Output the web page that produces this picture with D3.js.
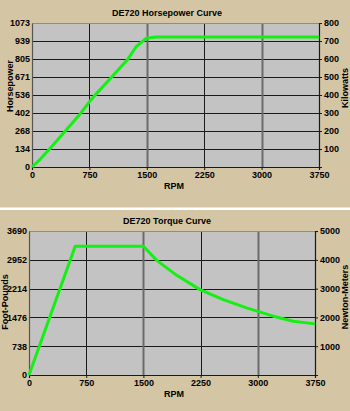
<!DOCTYPE html>
<html>
<head>
<meta charset="utf-8">
<script src="https://cdn.jsdelivr.net/npm/d3@7"></script>
<style>
  body { margin: 0; background: #d4c6a4; }
  svg { display: block; }
  text { font-family: "Liberation Sans", Arial, sans-serif; font-weight: bold; font-size: 9px; fill: #000; }
</style>
</head>
<body>
<div id="chart"></div>
<script>
// shared x axis
const rpmTicks = [0, 750, 1500, 2250, 3000, 3750];

// horsepower chart
const hpTicks = [0, 134, 268, 402, 536, 671, 805, 939, 1073];
const kwTicks = [100, 200, 300, 400, 500, 600, 700, 800];
const hpRpm = [0, 116, 247, 444, 640, 750, 815, 1033, 1251, 1360, 1491, 1622, 3750];
const hpValues = [0, 63, 145, 274, 403, 485, 530, 665, 802, 896, 959, 968, 968];

// torque chart
const ftlbTicks = [0, 738, 1476, 2214, 2952, 3690];
const nmTicks = [1000, 2000, 3000, 4000, 5000];
const torqueRpm = [0, 606, 1500, 1675, 1937, 2242, 2547, 2853, 3202, 3464, 3750];
const torqueValues = [0, 3300, 3300, 2937, 2554, 2188, 1933, 1719, 1507, 1379, 1310];

const svg = d3.select("#chart").append("svg")
    .attr("width", 350)
    .attr("height", 411);

svg.append("rect")
    .attr("width", 350).attr("height", 411)
    .attr("fill", "#d4c6a4");

// white divider between the two charts
svg.append("rect")
    .attr("x", 0).attr("y", 207.5)
    .attr("width", 350).attr("height", 2.5)
    .attr("fill", "#fff");

function drawCurve(opts) {
    const g = svg.append("g");
    const x = d3.scaleLinear().domain([0, 3750]).range([opts.left, opts.right]);
    const y = d3.scaleLinear().domain([0, opts.leftTicks[opts.leftTicks.length - 1]]).range([opts.bottom, opts.top]);
    const y2 = d3.scaleLinear().domain(opts.rightDomain).range([opts.bottom, opts.top]);

    // plot background
    g.append("rect")
        .attr("x", opts.left).attr("y", opts.top)
        .attr("width", opts.right - opts.left)
        .attr("height", opts.bottom - opts.top)
        .attr("fill", "#c3c3c3");

    // horizontal grid
    g.selectAll(".hgrid")
        .data(opts.leftTicks.slice(1, -1))
        .enter().append("line")
        .attr("x1", opts.left).attr("x2", opts.right)
        .attr("y1", d => Math.round(y(d)) + 0.5)
        .attr("y2", d => Math.round(y(d)) + 0.5)
        .attr("stroke", "#1a1a1a");

    // vertical grid; 1500 and 3000 are drawn grey and heavier
    g.selectAll(".vgrid")
        .data(rpmTicks.slice(1, -1))
        .enter().append("line")
        .attr("x1", d => Math.round(x(d)) + 0.5)
        .attr("x2", d => Math.round(x(d)) + 0.5)
        .attr("y1", opts.top).attr("y2", opts.bottom)
        .attr("stroke", d => d % 1500 === 0 ? "#6a6a6a" : "#1a1a1a")
        .attr("stroke-width", d => d % 1500 === 0 ? 2 : 1);

    // frame: light top edge, dark left/bottom/right
    g.append("line")
        .attr("x1", opts.left).attr("x2", opts.right)
        .attr("y1", opts.top + 0.5).attr("y2", opts.top + 0.5)
        .attr("stroke", "#8c8c8c");

    // axes
    const xAxis = g.append("g")
        .attr("transform", "translate(0," + opts.bottom + ")")
        .call(d3.axisBottom(x).tickValues(rpmTicks).tickSize(3).tickPadding(2).tickFormat(d3.format("d")));
    const yAxis = g.append("g")
        .attr("transform", "translate(" + opts.left + ",0)")
        .call(d3.axisLeft(y).tickValues(opts.leftTicks).tickSize(0).tickPadding(2).tickFormat(d3.format("d")));
    const yAxis2 = g.append("g")
        .attr("transform", "translate(" + opts.right + ",0)")
        .call(d3.axisRight(y2).tickValues(opts.rightTicks).tickSize(3).tickPadding(2).tickFormat(d3.format("d")));

    [xAxis, yAxis, yAxis2].forEach(function(a) {
        a.attr("font-family", null).attr("font-size", null);
        a.selectAll("path").attr("stroke", "#1a1a1a").attr("stroke-width", 1.2);
        a.selectAll("line").attr("stroke", "#1a1a1a");
        a.selectAll("text").attr("fill", "#000");
    });
    yAxis.select("path").attr("stroke", "#555");

    // curve
    const line = d3.line()
        .x(d => x(d[0]))
        .y(d => y(d[1]));
    g.append("path")
        .datum(d3.zip(opts.rpm, opts.values))
        .attr("d", line)
        .attr("fill", "none")
        .attr("stroke", "#14f014")
        .attr("stroke-width", 3)
        .attr("stroke-linejoin", "round");

    // titles
    g.append("text")
        .attr("x", 167).attr("y", opts.top - 7)
        .attr("text-anchor", "middle")
        .text(opts.title);
    g.append("text")
        .attr("x", 174).attr("y", opts.bottom + 22)
        .attr("text-anchor", "middle")
        .text("RPM");
    g.append("text")
        .attr("transform", "translate(" + opts.leftLabelX + "," + opts.leftLabelY + ") rotate(-90)")
        .attr("text-anchor", "middle")
        .text(opts.leftLabel);
    g.append("text")
        .attr("transform", "translate(" + opts.rightLabelX + "," + opts.rightLabelY + ") rotate(-90)")
        .attr("text-anchor", "middle")
        .text(opts.rightLabel);
}

drawCurve({
    title: "DE720 Horsepower Curve",
    left: 32, right: 319, top: 23, bottom: 167,
    leftTicks: hpTicks, rightTicks: kwTicks, rightDomain: [0, 800],
    rpm: hpRpm, values: hpValues,
    leftLabel: "Horsepower", leftLabelX: 13, leftLabelY: 86,
    rightLabel: "Kilowatts", rightLabelX: 348, rightLabelY: 88
});

drawCurve({
    title: "DE720 Torque Curve",
    left: 29, right: 315, top: 231, bottom: 375,
    leftTicks: ftlbTicks, rightTicks: nmTicks, rightDomain: [0, 5003],
    rpm: torqueRpm, values: torqueValues,
    leftLabel: "Foot-Pounds", leftLabelX: 8, leftLabelY: 302,
    rightLabel: "Newton-Meters", rightLabelX: 348, rightLabelY: 297
});
</script>
</body>
</html>
